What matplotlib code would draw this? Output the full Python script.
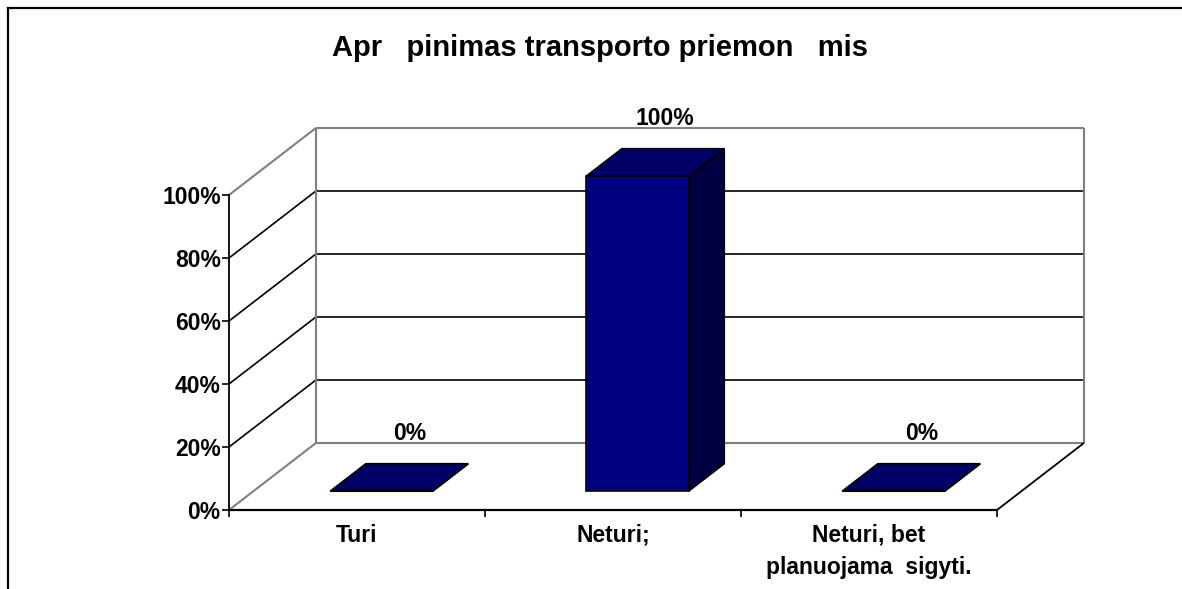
import matplotlib
matplotlib.use("Agg")
import matplotlib.pyplot as plt
from matplotlib.patches import Polygon
from matplotlib.lines import Line2D

# ---- data ----
title = "Apr   pinimas transporto priemon   mis"
categories = ["Turi", "Neturi;", "Neturi, bet\nplanuojama  sigyti."]
values = [0, 100, 0]
y_ticks = [0, 20, 40, 60, 80, 100]
y_tick_labels = ["0%", "20%", "40%", "60%", "80%", "100%"]

# ---- style ----
FONT = "Liberation Sans"
FRONT = "#000080"
TOP = "#000066"
SIDE = "#000042"
WALL_EDGE = "#808080"
LABEL_SIZE = 16.5

W, H, DPI = 1182, 589, 100
fig = plt.figure(figsize=(W / DPI, H / DPI), dpi=DPI)
fig.patch.set_facecolor("white")

# front plane of the plot: categories on x, percent on y
ax = fig.add_axes([229 / W, (H - 510) / H, (997 - 229) / W, (510 - 195) / H])
ax.set_xlim(-0.5, len(categories) - 0.5)
ax.set_ylim(0, 100)
ax.patch.set_visible(False)

# oblique depth offset for the full depth of the chart, in data units
DX, DY = 0.34, 21.3
X0, X1 = -0.5, len(categories) - 0.5


def proj(x, y, d):
    return (x + d * DX, y + d * DY)


def seg(p, q, color, lw, z=1):
    ax.add_line(Line2D([p[0], q[0]], [p[1], q[1]], color=color, lw=lw,
                       clip_on=False, zorder=z, solid_capstyle="butt"))


# back wall gridlines and side wall diagonals
for t in y_ticks:
    inner = t not in (y_ticks[0], y_ticks[-1])
    c = "black" if inner else WALL_EDGE
    seg(proj(X0, t, 1), proj(X1, t, 1), c, 1.2 if inner else 1.5)
    seg(proj(X0, t, 0), proj(X0, t, 1), c, 1.2 if inner else 1.5)

# back wall vertical edges
seg(proj(X0, 0, 1), proj(X0, 100, 1), WALL_EDGE, 1.5)
seg(proj(X1, 0, 1), proj(X1, 100, 1), WALL_EDGE, 1.5)
# right floor edge
seg(proj(X1, 0, 0), proj(X1, 0, 1), "black", 1.3)

# bars
D0, D1 = 0.28, 0.69
HALF = 0.2
for i, v in enumerate(values):
    xl, xr = i - HALF, i + HALF
    side = [proj(xr, 0, D0), proj(xr, 0, D1), proj(xr, v, D1), proj(xr, v, D0)]
    top = [proj(xl, v, D0), proj(xr, v, D0), proj(xr, v, D1), proj(xl, v, D1)]
    front = [proj(xl, 0, D0), proj(xr, 0, D0), proj(xr, v, D0), proj(xl, v, D0)]
    for pts, col in ((side, SIDE), (top, TOP), (front, FRONT)):
        ax.add_patch(Polygon(pts, closed=True, facecolor=col, edgecolor="black",
                             lw=1.2, joinstyle="miter", clip_on=False, zorder=3))
    lx, ly = proj(i, v, 0.6)
    ax.annotate(f"{v}%", (lx, ly), xytext=(0, 18), textcoords="offset points",
                ha="center", va="bottom", fontsize=LABEL_SIZE, fontweight="bold",
                family=FONT, annotation_clip=False, zorder=4)

# axes: spines and ticks
for s in ("top", "right"):
    ax.spines[s].set_visible(False)
ax.spines["left"].set_linewidth(1.3)
ax.spines["bottom"].set_linewidth(1.6)
ax.spines["left"].set_zorder(5)
ax.spines["bottom"].set_zorder(5)

ax.set_yticks(y_ticks)
ax.set_yticklabels(y_tick_labels)
ax.tick_params(axis="y", direction="out", length=5, width=1.2, pad=1,
               labelsize=LABEL_SIZE)
ax.set_xticks([k - 0.5 for k in range(len(categories) + 1)])
ax.set_xticklabels([])
ax.set_xticks(range(len(categories)), minor=True)
ax.set_xticklabels(categories, minor=True, linespacing=1.5)
ax.tick_params(axis="x", which="major", direction="out", length=5, width=1.2)
ax.tick_params(axis="x", which="minor", length=0, pad=10, labelsize=LABEL_SIZE)
for lab in ax.get_yticklabels() + ax.get_xticklabels(minor=True):
    lab.set_family(FONT)
    lab.set_fontweight("bold")

# title
fig.text(600 / W, 1 - 48 / H, title, ha="center", va="center",
         fontsize=21, fontweight="bold", family=FONT)

# outer frame (left and top edges)
fig.add_artist(Line2D([8 / W, 8 / W], [0, 1 - 8 / H], color="black", lw=1.6,
                      transform=fig.transFigure))
fig.add_artist(Line2D([8 / W, 1], [1 - 8 / H, 1 - 8 / H], color="black", lw=1.6,
                      transform=fig.transFigure))

fig.savefig("out.png", dpi=DPI, facecolor="white")
